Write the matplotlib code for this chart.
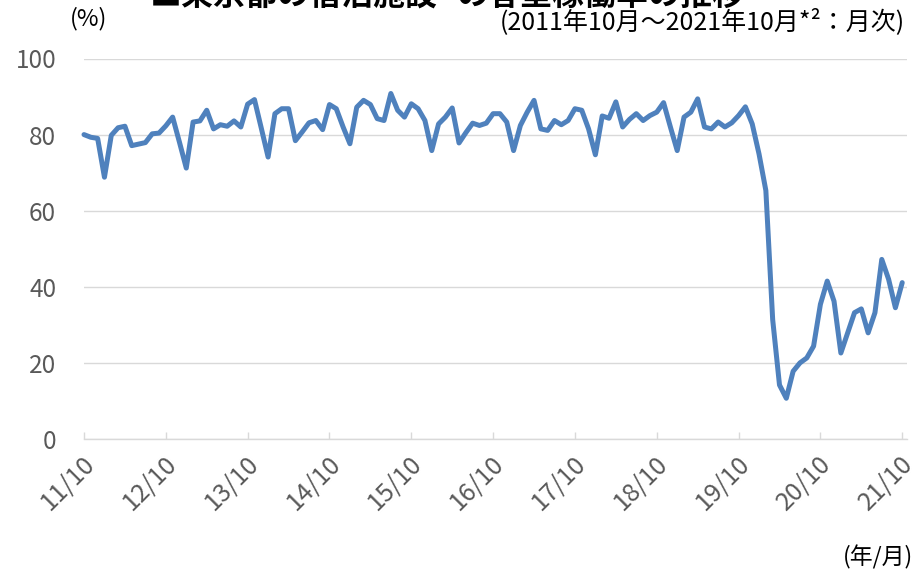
#!/usr/bin/env python3
"""
Tokyo lodging facilities: monthly guest room occupancy, 2011/10 - 2021/10
"""
import numpy as np
import matplotlib
matplotlib.use("Agg")
import matplotlib.pyplot as plt
from matplotlib.transforms import ScaledTranslation

plt.rcParams['font.family'] = ['Noto Sans CJK JP', 'DejaVu Sans']

# monthly occupancy rate (%), 2011/10 .. 2021/10 (121 months)
occupancy = [
    80.0, 79.3, 79.0, 68.8, 79.8, 81.8, 82.2, 77.1, 77.5, 77.9, 80.2, 80.4,   # 11/10-
    82.3, 84.6, 78.0, 71.2, 83.3, 83.6, 86.4, 81.5, 82.6, 82.2, 83.6, 82.0,   # 12/10-
    88.0, 89.2, 81.7, 74.1, 85.5, 86.8, 86.8, 78.4, 80.7, 83.1, 83.7, 81.3,   # 13/10-
    87.9, 86.8, 82.0, 77.6, 87.2, 89.0, 87.9, 84.2, 83.7, 90.8, 86.4, 84.6,   # 14/10-
    88.1, 86.8, 83.7, 75.8, 82.8, 84.6, 87.0, 77.8, 80.5, 83.0, 82.4, 83.0,   # 15/10-
    85.5, 85.5, 83.3, 75.8, 82.4, 85.9, 89.0, 81.5, 81.1, 83.7, 82.6, 83.7,   # 16/10-
    86.8, 86.4, 81.5, 74.7, 84.9, 84.3, 88.6, 82.0, 84.0, 85.5, 83.7, 85.0,   # 17/10-
    85.9, 88.4, 82.0, 75.8, 84.6, 85.9, 89.4, 82.0, 81.5, 83.3, 82.0, 83.1,   # 18/10-
    85.0, 87.3, 82.8, 74.9, 65.3, 31.4, 14.2, 10.7, 17.8, 20.0, 21.3, 24.4,   # 19/10-
    35.4, 41.5, 36.2, 22.6, 27.9, 33.2, 34.2, 27.9, 33.2, 47.2, 42.0, 34.5,   # 20/10-
    41.1,                                                                      # 21/10
]
tick_labels = ["11/10", "12/10", "13/10", "14/10", "15/10", "16/10",
               "17/10", "18/10", "19/10", "20/10", "21/10"]
y_ticks = [0, 20, 40, 60, 80, 100]

W, H = 922, 571
fig = plt.figure(figsize=(W / 100, H / 100), dpi=100)
ax = fig.add_axes([84 / W, (H - 439) / H, 823 / W, (439 - 58.5) / H])

months = np.arange(len(occupancy))
ax.plot(months, occupancy, color="#4f81bd", lw=3.6, solid_joinstyle="round",
        solid_capstyle="round", clip_on=False, zorder=3)

grid_c = "#d9d9d9"
ax.set_ylim(0, 100)
ax.set_xlim(0, 120.7)
ax.set_yticks(y_ticks)
ax.yaxis.grid(True, color=grid_c, lw=1.0)
ax.set_axisbelow(True)
for s in ["top", "right", "left"]:
    ax.spines[s].set_visible(False)
ax.spines["bottom"].set_color(grid_c)
ax.spines["bottom"].set_linewidth(1.0)

ax.tick_params(axis="y", length=0, pad=20, labelsize=17.5, labelcolor="#595959")
ax.set_xticks(np.arange(0, len(occupancy), 12))
ax.set_xticklabels(tick_labels, rotation=45, ha="right", va="center",
                   rotation_mode="anchor")
ax.tick_params(axis="x", direction="in", length=5, width=1.0, color=grid_c,
               pad=15, labelsize=18, labelcolor="#595959")
# nudge rotated labels a little to the right, like the source
shift = ScaledTranslation(5 / 72, 0, fig.dpi_scale_trans)
for lab in ax.get_xticklabels():
    lab.set_transform(lab.get_transform() + shift)

# texts around the plot (title is cut off at the top, as in the source image)
fig.text(150 / W, (H - 5) / H, "■東京都の宿泊施設", fontsize=23, fontweight="bold",
         ha="left", va="baseline")
fig.text(745 / W, (H - 5) / H, "の客室稼働率の推移", fontsize=23, fontweight="bold",
         ha="right", va="baseline")
fig.text(89 / W, (H - 19) / H, "(%)", fontsize=17, ha="center", va="center")
fig.text(905 / W, (H - 22) / H, "(2011年10月～2021年10月*²：月次)", fontsize=18,
         ha="right", va="center")
fig.text(913 / W, (H - 557) / H, "(年/月)", fontsize=16.5, ha="right", va="center")

fig.savefig("out.png", dpi=100)
